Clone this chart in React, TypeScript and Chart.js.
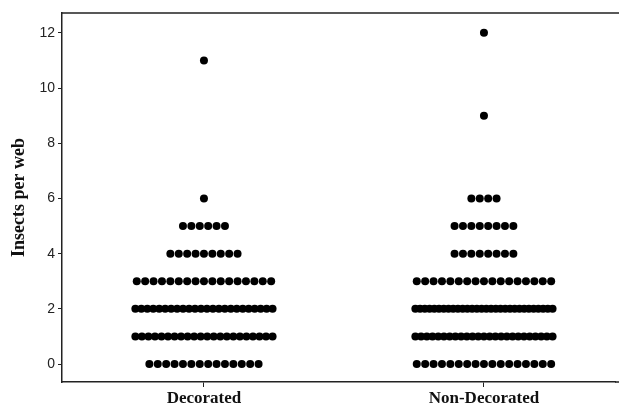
import React, { useEffect, useRef } from "react";
import { Chart, registerables } from "chart.js";

Chart.register(...registerables);

const categories = ["Decorated", "Non-Decorated"];
// number of webs observed with each insect count (index = insects per web)
const decoratedCounts = [14, 22, 24, 17, 9, 6, 1, 0, 0, 0, 0, 1];
const nonDecoratedCounts = [17, 25, 30, 17, 8, 8, 4, 0, 0, 1, 0, 0, 1];
const yTicks = [0, 2, 4, 6, 8, 10, 12];

const DOT_STEP = 0.03;
const MAX_SPAN = 0.49;

function swarm(counts: number[], center: number) {
  const pts: { x: number; y: number }[] = [];
  counts.forEach((n, value) => {
    if (n <= 0) return;
    const step = n > 1 ? Math.min(DOT_STEP, MAX_SPAN / (n - 1)) : 0;
    for (let i = 0; i < n; i++) {
      pts.push({ x: center + (i - (n - 1) / 2) * step, y: value });
    }
  });
  return pts;
}

const frameLines = {
  id: "frameLines",
  afterDraw(chart: any) {
    const { ctx, chartArea } = chart;
    ctx.save();
    ctx.strokeStyle = "#222";
    ctx.lineWidth = 1.5;
    ctx.beginPath();
    ctx.moveTo(chartArea.left, chartArea.top);
    ctx.lineTo(chart.width, chartArea.top);
    ctx.moveTo(chartArea.right, chartArea.bottom);
    ctx.lineTo(chart.width, chartArea.bottom);
    ctx.stroke();
    ctx.restore();
  },
};

export default function App() {
  const ref = useRef<HTMLCanvasElement | null>(null);
  useEffect(() => {
    document.body.style.margin = "0";
    const chart = new Chart(ref.current as HTMLCanvasElement, {
      type: "scatter",
      data: {
        datasets: [
          {
            data: swarm(decoratedCounts, 0),
            backgroundColor: "#000",
            borderColor: "#000",
            pointRadius: 4,
            pointHoverRadius: 4,
            borderWidth: 0,
          },
          {
            data: swarm(nonDecoratedCounts, 1),
            backgroundColor: "#000",
            borderColor: "#000",
            pointRadius: 4,
            pointHoverRadius: 4,
            borderWidth: 0,
          },
        ],
      },
      options: {
        animation: false,
        responsive: false,
        maintainAspectRatio: false,
        layout: { padding: { top: 13, right: 0, left: 0, bottom: 0 } },
        plugins: { legend: { display: false }, tooltip: { enabled: false } },
        scales: {
          x: {
            type: "linear",
            min: -0.507,
            max: 1.468,
            afterBuildTicks: (scale: any) => {
              scale.ticks = categories.map((_, i) => ({ value: i }));
            },
            afterFit: (scale: any) => {
              scale.height = 28;
            },
            ticks: {
              callback: (v: any) => categories[v as number] ?? "",
              color: "#111",
              font: { family: "Liberation Serif", size: 17, weight: "bold" },
              padding: 1,
              maxRotation: 0,
            },
            grid: { display: true, drawOnChartArea: false, drawTicks: true, tickLength: 5, color: "#222", lineWidth: 1 },
            border: { display: true, color: "#222", width: 1.5 },
          },
          y: {
            type: "linear",
            min: -0.65,
            max: 12.72,
            afterBuildTicks: (scale: any) => {
              scale.ticks = yTicks.map((v) => ({ value: v }));
            },
            afterFit: (scale: any) => {
              scale.width = 62;
            },
            ticks: {
              color: "#222",
              font: { family: "Liberation Sans", size: 14 },
              padding: 3,
            },
            grid: { display: true, drawOnChartArea: false, drawTicks: true, tickLength: 4, color: "#222", lineWidth: 1 },
            border: { display: true, color: "#222", width: 1.5 },
            title: {
              display: true,
              text: "Insects per web",
              color: "#111",
              font: { family: "Liberation Serif", size: 18, weight: "bold" },
              padding: { top: 9, bottom: 4 },
            },
          },
        },
      },
      plugins: [frameLines],
    });
    return () => chart.destroy();
  }, []);
  return (
    <div style={{ position: "absolute", left: 0, top: 0, width: 619, height: 410, background: "#fff" }}>
      <canvas ref={ref} width={619} height={410} style={{ width: 619, height: 410 }} />
    </div>
  );
}
